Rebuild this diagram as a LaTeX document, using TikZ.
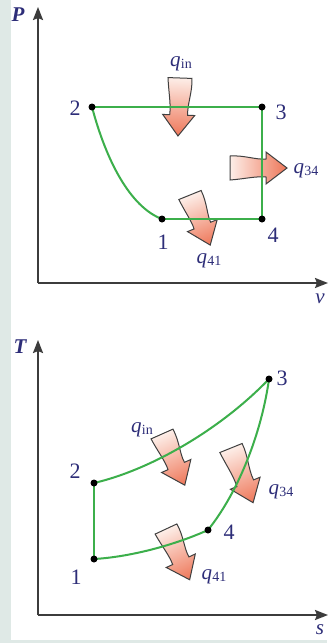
\documentclass[tikz,border=0pt]{standalone}
\usepackage{fontspec}
\setmainfont{Liberation Serif}
\usetikzlibrary{arrows.meta}
\definecolor{bgstrip}{RGB}{223,233,230}
\definecolor{cyc}{RGB}{60,175,75}
\definecolor{ink}{RGB}{45,45,120}
\definecolor{axiscol}{RGB}{60,60,60}
\definecolor{heatA}{RGB}{253,238,232}
\definecolor{heatB}{RGB}{238,118,88}
\newcommand{\qlab}[1]{\textit{q}\kern0.3pt\raisebox{-1.5pt}{\fontsize{14}{14}\selectfont #1}}
\newcommand{\heatarrow}[4]{%
  \begin{scope}[transform canvas={shift={(#1,#2)},rotate=#3}]
    \path[heat] (0,12) -- (0,-12) .. controls (14,-13) and (26,-8) .. ({#4-21},-9)
      -- ({#4-21},-16) -- (#4,0) -- ({#4-21},16) -- ({#4-21},9)
      .. controls (26,8) and (14,11) .. cycle;
  \end{scope}}
\begin{document}
\begin{tikzpicture}[x=1pt,y=-1pt,
  axisline/.style={draw=axiscol,line width=2pt,-{Stealth[length=13pt,width=10pt,inset=2pt]}},
  cyclepath/.style={draw=cyc,line width=2pt},
  dot/.style={fill=black,circle,inner sep=0pt,minimum size=7pt},
  num/.style={text=ink,font=\fontsize{22}{22}\selectfont,inner sep=0pt},
  axlab/.style={text=ink,font=\fontsize{21}{21}\selectfont\bfseries\itshape,inner sep=0pt},
  qtext/.style={text=ink,font=\fontsize{21}{21}\selectfont,inner sep=0pt},
  heat/.style={draw=black!75,line width=1pt,left color=heatA,right color=heatB}
]
\useasboundingbox (0,0) rectangle (327,643);
\fill[bgstrip] (0,0) rectangle (327,643);
\fill[white] (11,0) rectangle (327,640);

% ---------- P-v diagram ----------
\coordinate (Po) at (38,283);
\coordinate (Pt) at (38,7);
\coordinate (Pr) at (328,283);
\draw[axisline] (Po) -- (Pt);
\draw[axisline] (Po) -- (Pr);
\node[axlab] (Plab) at (18,15) {P};
\node[text=ink,font=\fontsize{21}{21}\selectfont\itshape,inner sep=0pt] (vlab) at (320,299) {v};

\coordinate (a1) at (162,219);
\coordinate (a2) at (92,107);
\coordinate (a3) at (262,107);
\coordinate (a4) at (262,219);

\heatarrow{180}{78}{-92}{58}
\heatarrow{230}{168}{0}{57}
\heatarrow{190}{195}{-68}{54}

\draw[cyclepath] (a2) -- (a3) -- (a4) -- (a1);
\draw[cyclepath] (a2) .. controls (106,160) and (130,207) .. (a1);
\foreach \p in {a1,a2,a3,a4} \node[dot] at (\p) {};

\node[num] (n2) at (75,108) {2};
\node[num] (n3) at (281,112) {3};
\node[num] (n4) at (273,235) {4};
\node[num] (n1) at (163,242) {1};
\node[qtext] (qa) at (181,64) {\qlab{in}};
\node[qtext] (qb) at (306,171) {\qlab{34}};
\node[qtext] (qc) at (209,261) {\qlab{41}};

% ---------- T-s diagram ----------
\coordinate (To) at (38,615);
\coordinate (Tt) at (38,340);
\coordinate (Tr) at (328,615);
\draw[axisline] (To) -- (Tt);
\draw[axisline] (To) -- (Tr);
\node[axlab] (Tlab) at (20,347) {T};
\node[text=ink,font=\fontsize{21}{21}\selectfont\itshape,inner sep=0pt] (slab) at (320,630) {s};

\coordinate (b1) at (94,559);
\coordinate (b2) at (94,483);
\coordinate (b3) at (269,379);
\coordinate (b4) at (208,530);

\heatarrow{162}{434}{-66}{56}
\heatarrow{231}{448}{-68}{59}
\heatarrow{166}{529}{-65}{56}

\draw[cyclepath] (b1) -- (b2);
\draw[cyclepath] (b2) .. controls (150,470) and (220,430) .. (b3);
\draw[cyclepath] (b3) .. controls (262,430) and (240,490) .. (b4);
\draw[cyclepath] (b1) .. controls (130,557) and (175,545) .. (b4);
\foreach \p in {b1,b2,b3,b4} \node[dot] at (\p) {};

\node[num] (m2) at (75,471) {2};
\node[num] (m1) at (76,577) {1};
\node[num] (m3) at (282,378) {3};
\node[num] (m4) at (229,532) {4};
\node[qtext] (ra) at (142,430) {\qlab{in}};
\node[qtext] (rb) at (281,492) {\qlab{34}};
\node[qtext] (rc) at (214,577) {\qlab{41}};
\end{tikzpicture}
\end{document}
